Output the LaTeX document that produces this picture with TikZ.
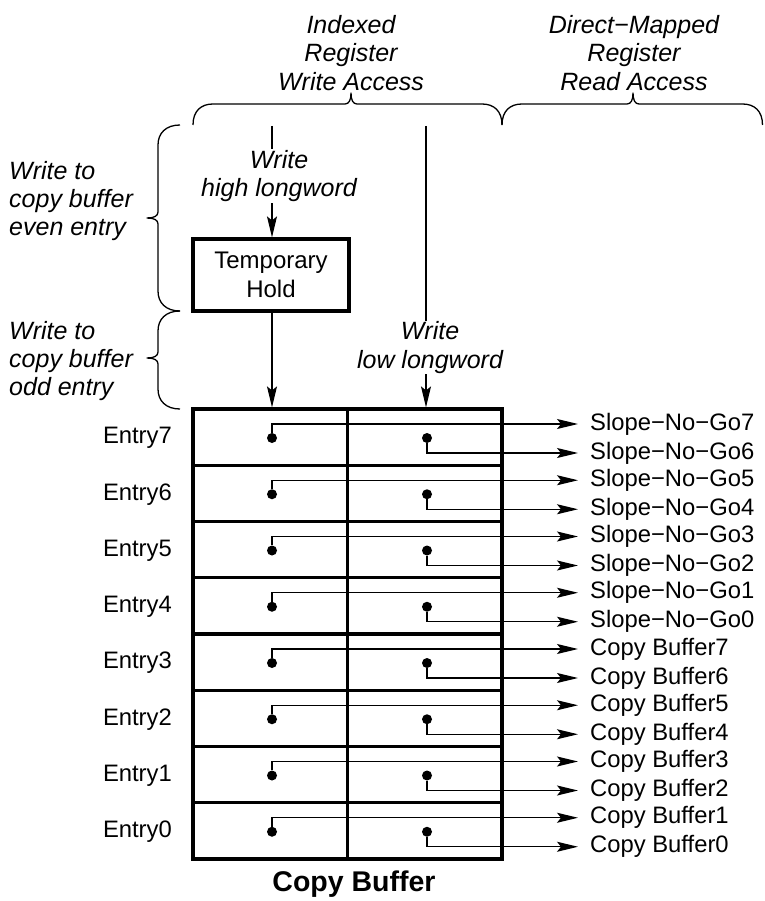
\documentclass[tikz,border=0pt]{standalone}
\usepackage{fontspec}
\setmainfont{Liberation Sans}
\usetikzlibrary{arrows.meta}
\newcommand\myhbrace[3]{\draw[brc] (#1,125) .. controls (#1,111) and (#1+8,104) .. (#1+20,104) -- (#2-6,104) .. controls (#2-2,104) and (#2,100) .. (#2,93) .. controls (#2,100) and (#2+2,104) .. (#2+6,104) -- (#3-20,104) .. controls (#3-8,104) and (#3,111) .. (#3,125);}
\newcommand\myvbrace[3]{\draw[brc] (180,#1) .. controls (166,#1) and (158,#1+8) .. (158,#1+20) -- (158,#2-6) .. controls (158,#2-2) and (154,#2) .. (147,#2) .. controls (154,#2) and (158,#2+2) .. (158,#2+6) -- (158,#3-20) .. controls (158,#3-8) and (166,#3) .. (180,#3);}
\begin{document}
\begin{tikzpicture}[x=1pt,y=-1pt,
  thinln/.style={line width=1.3pt},
  thickln/.style={line width=3.2pt},
  arr/.style={-{Stealth[length=21pt,width=10pt,inset=4pt]}},
  txt/.style={font=\fontsize{23.8}{28}\selectfont, inner sep=0pt},
  itl/.style={font=\fontsize{25}{28.5}\selectfont\itshape, inner sep=0pt, align=center},
  itll/.style={font=\fontsize{25}{28}\selectfont\itshape, inner sep=0pt, align=left},
  cell/.style={draw, thickln, minimum width=154.5pt, minimum height=56.25pt, inner sep=0pt},
  dot/.style={circle, fill, minimum size=10pt, inner sep=0pt},
  holdbox/.style={draw, thickln, minimum width=156pt, minimum height=72pt, align=center, font=\fontsize{24}{29}\selectfont, inner sep=0pt},
  brc/.style={thinln, line join=round}
]
\useasboundingbox (0,0) rectangle (764,901);

% top braces and labels
\myhbrace{193}{351}{502}
\myhbrace{502}{633}{762.5}
\node[itl] (idx) at (351,53) {Indexed\\Register\\Write Access};
\node[itl] (dm) at (634,53) {Direct−Mapped\\Register\\Read Access};

% left braces and labels
\myvbrace{125}{218}{311}
\myvbrace{311}{358}{409}
\node[itll, anchor=west] (even) at (9,201) {Write to\\copy buffer\\even entry};
\node[itll, anchor=west] (odd) at (9,361) {Write to\\copy buffer\\odd entry};

% temporary hold
\node[holdbox] (hold) at (271,275) {Temporary\\Hold};

% rows
\foreach \i/\e/\u/\d in {0/7/Slope−No−Go7/Slope−No−Go6, 1/6/Slope−No−Go5/Slope−No−Go4, 2/5/Slope−No−Go3/Slope−No−Go2, 3/4/Slope−No−Go1/Slope−No−Go0, 4/3/Copy Buffer7/Copy Buffer6, 5/2/Copy Buffer5/Copy Buffer4, 6/1/Copy Buffer3/Copy Buffer2, 7/0/Copy Buffer1/Copy Buffer0}{
  \pgfmathsetmacro\T{409+56.25*\i}
  \node[cell] (cL\i) at (270.25,\T+28.125) {};
  \node[cell] (cR\i) at (424.75,\T+28.125) {};
  \node[txt, anchor=east] (en\i) at (172,\T+29) {Entry\e};
  \node[dot] (dL\i) at (272,\T+29) {};
  \node[dot] (dR\i) at (427,\T+29) {};
  \node[txt, anchor=west] (oU\i) at (590,\T+15) {\u};
  \node[txt, anchor=west] (oD\i) at (590,\T+44) {\d};
  \draw[thinln,arr] (dL\i) |- ([xshift=-12pt]oU\i.west);
  \draw[thinln,arr] (dR\i) |- ([xshift=-12pt]oD\i.west);
}

% write paths
\coordinate (hiTop) at (272,126);
\coordinate (loTop) at (426,126);
\draw[thinln,arr] (hiTop) -- (hiTop |- hold.north);
\node[itl, fill=white, inner sep=1pt] (hiLab) at (279,176) {Write\\high longword};
\draw[thinln,arr] (hiTop |- hold.south) -- (hiTop |- cL0.north);
\draw[thinln,arr] (loTop) -- (loTop |- cR0.north);
\node[itl, fill=white, inner sep=1pt] (loLab) at (430,347.5) {Write\\low longword};

% caption
\node[font=\fontsize{28.5}{32}\selectfont\bfseries, inner sep=0pt] (cb) at (354,884) {Copy Buffer};
\end{tikzpicture}
\end{document}
